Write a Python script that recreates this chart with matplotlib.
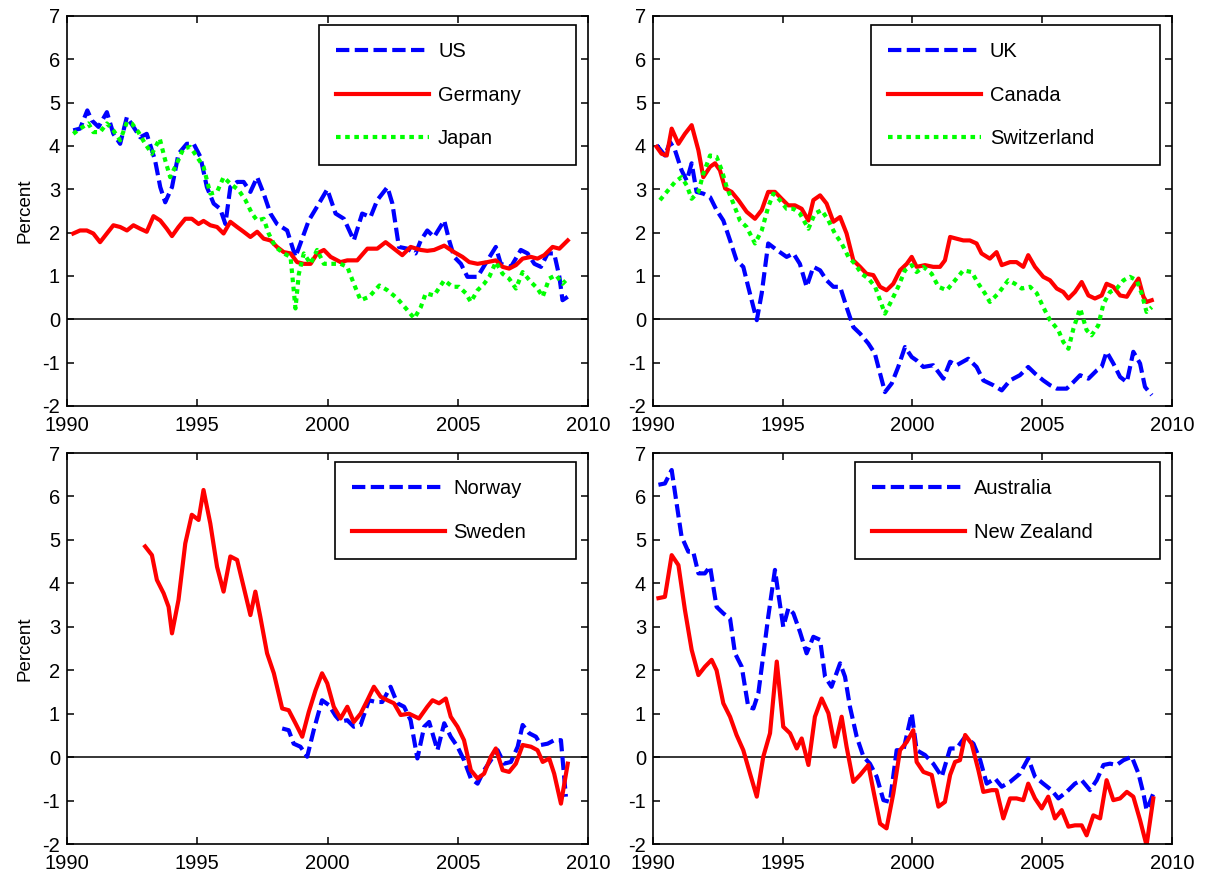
import matplotlib
matplotlib.use("Agg")
import matplotlib.pyplot as plt

plt.rcParams['font.family'] = ['Liberation Sans', 'DejaVu Sans']
plt.rcParams['font.size'] = 14.5
plt.rcParams['axes.unicode_minus'] = False

# quarterly series, percent
us_t = [1990.24, 1990.50, 1990.78, 1990.95, 1991.21, 1991.53, 1991.78, 1992.04, 1992.30, 1992.55,
        1992.81, 1993.06, 1993.38, 1993.58, 1993.77, 1994.03, 1994.28, 1994.60, 1994.86, 1995.12,
        1995.37, 1995.63, 1995.88, 1996.08, 1996.27, 1996.53, 1996.78, 1997.04, 1997.30, 1997.55,
        1997.81, 1998.06, 1998.45, 1998.77, 1998.96, 1999.28, 1999.60, 1999.99, 2000.31, 2000.63,
        2001.01, 2001.33, 2001.65, 2001.91, 2002.30, 2002.49, 2002.74, 2003.06, 2003.38, 2003.58,
        2003.83, 2004.09, 2004.48, 2004.67, 2004.86, 2005.12, 2005.37, 2005.76, 2006.14, 2006.46,
        2006.65, 2007.04, 2007.42, 2007.68, 2007.94, 2008.19, 2008.45, 2008.70, 2008.90, 2009.02,
        2009.22]
us = [4.36, 4.40, 4.82, 4.59, 4.44, 4.78, 4.28, 4.05, 4.67, 4.44,
      4.20, 4.28, 3.67, 3.05, 2.70, 3.05, 3.82, 4.05, 4.05, 3.75,
      3.05, 2.67, 2.55, 2.20, 3.05, 3.17, 3.17, 2.94, 3.28, 2.90,
      2.44, 2.20, 2.05, 1.44, 1.75, 2.28, 2.60, 3.00, 2.44, 2.32,
      1.82, 2.44, 2.36, 2.75, 3.05, 2.67, 1.67, 1.63, 1.52, 1.82,
      2.05, 1.90, 2.28, 1.82, 1.44, 1.28, 0.98, 0.98, 1.36, 1.67,
      1.28, 1.21, 1.60, 1.52, 1.28, 1.21, 1.52, 1.52, 0.98, 0.44,
      0.52]

germany_t = [1990.24, 1990.50, 1990.76, 1991.01, 1991.27, 1991.53, 1991.78, 1992.04, 1992.30, 1992.55,
             1992.81, 1993.06, 1993.32, 1993.58, 1993.83, 1994.03, 1994.28, 1994.54, 1994.79, 1995.05,
             1995.24, 1995.50, 1995.76, 1996.01, 1996.27, 1996.53, 1996.78, 1997.04, 1997.30, 1997.55,
             1997.81, 1998.06, 1998.32, 1998.58, 1998.83, 1999.09, 1999.35, 1999.60, 1999.86, 2000.12,
             2000.50, 2000.76, 2001.14, 2001.53, 2001.91, 2002.23, 2002.55, 2002.87, 2003.19, 2003.58,
             2003.83, 2004.09, 2004.48, 2004.86, 2005.18, 2005.44, 2005.76, 2006.14, 2006.46, 2006.72,
             2006.97, 2007.23, 2007.49, 2007.81, 2008.06, 2008.32, 2008.64, 2008.90, 2009.22]
germany = [1.98, 2.05, 2.05, 1.98, 1.78, 1.98, 2.17, 2.13, 2.05, 2.17,
           2.09, 2.02, 2.38, 2.28, 2.09, 1.92, 2.13, 2.32, 2.32, 2.20,
           2.27, 2.17, 2.13, 1.98, 2.25, 2.13, 2.02, 1.90, 2.02, 1.86,
           1.82, 1.67, 1.55, 1.52, 1.32, 1.28, 1.28, 1.52, 1.60, 1.44,
           1.32, 1.36, 1.36, 1.63, 1.63, 1.78, 1.63, 1.48, 1.67, 1.60,
           1.58, 1.60, 1.70, 1.55, 1.44, 1.32, 1.28, 1.32, 1.36, 1.21,
           1.17, 1.25, 1.40, 1.44, 1.40, 1.48, 1.67, 1.63, 1.82]

japan_t = [1990.24, 1990.50, 1990.82, 1991.01, 1991.27, 1991.53, 1991.78, 1992.04, 1992.30, 1992.49,
           1992.74, 1993.00, 1993.26, 1993.56, 1993.77, 1993.96, 1994.22, 1994.47, 1994.73, 1994.99,
           1995.24, 1995.50, 1995.76, 1996.01, 1996.27, 1996.59, 1996.85, 1997.10, 1997.30, 1997.55,
           1997.74, 1998.00, 1998.32, 1998.58, 1998.77, 1998.90, 1999.09, 1999.35, 1999.60, 1999.86,
           2000.12, 2000.50, 2000.76, 2001.01, 2001.27, 2001.60, 2001.99, 2002.30, 2002.68, 2003.01,
           2003.33, 2003.58, 2003.77, 2004.09, 2004.48, 2004.80, 2005.05, 2005.31, 2005.50, 2005.76,
           2006.01, 2006.21, 2006.46, 2006.72, 2006.97, 2007.23, 2007.49, 2007.81, 2008.06, 2008.26,
           2008.51, 2008.77, 2009.02, 2009.22]
japan = [4.28, 4.40, 4.52, 4.32, 4.32, 4.52, 4.36, 4.13, 4.55, 4.52,
         4.32, 4.05, 3.82, 4.17, 3.67, 3.28, 3.60, 3.94, 3.98, 3.75,
         3.52, 2.90, 2.94, 3.28, 3.13, 2.98, 2.75, 2.44, 2.28, 2.32,
         1.98, 1.67, 1.52, 1.44, 0.25, 1.05, 1.52, 1.28, 1.60, 1.28,
         1.28, 1.28, 1.21, 0.82, 0.44, 0.52, 0.78, 0.67, 0.48, 0.25,
         0.02, 0.28, 0.60, 0.55, 0.90, 0.75, 0.75, 0.60, 0.40, 0.67,
         0.82, 0.98, 1.32, 1.05, 0.94, 0.71, 1.09, 0.86, 0.71, 0.52,
         0.94, 1.02, 0.82, 0.94]

uk_t = [1990.14, 1990.46, 1990.66, 1990.85, 1991.10, 1991.30, 1991.49, 1991.68, 1991.94, 1992.20,
        1992.45, 1992.71, 1992.97, 1993.22, 1993.48, 1993.67, 1993.87, 1994.00, 1994.19, 1994.44,
        1994.77, 1995.15, 1995.41, 1995.66, 1995.92, 1996.18, 1996.44, 1996.69, 1996.95, 1997.21,
        1997.46, 1997.72, 1997.98, 1998.30, 1998.55, 1998.75, 1998.94, 1999.20, 1999.45, 1999.71,
        1999.97, 2000.16, 2000.42, 2000.80, 2001.19, 2001.45, 2001.70, 2002.15, 2002.47, 2002.73,
        2003.11, 2003.44, 2003.76, 2004.14, 2004.46, 2004.72, 2005.04, 2005.30, 2005.56, 2005.94,
        2006.20, 2006.46, 2006.78, 2007.10, 2007.29, 2007.48, 2007.74, 2008.00, 2008.26, 2008.51,
        2008.77, 2008.96, 2009.22]
uk = [4.02, 3.78, 4.09, 3.90, 3.44, 3.20, 3.60, 2.94, 2.90, 2.82,
      2.52, 2.28, 1.82, 1.36, 1.21, 0.75, 0.28, -0.02, 0.60, 1.75,
      1.60, 1.44, 1.52, 1.28, 0.75, 1.21, 1.13, 0.90, 0.75, 0.75,
      0.28, -0.18, -0.33, -0.56, -0.79, -1.25, -1.68, -1.48, -1.10, -0.64,
      -0.87, -0.95, -1.10, -1.06, -1.37, -0.98, -1.06, -0.91, -1.10, -1.41,
      -1.52, -1.64, -1.41, -1.29, -1.10, -1.25, -1.41, -1.52, -1.60, -1.60,
      -1.45, -1.29, -1.37, -1.18, -1.10, -0.75, -1.02, -1.33, -1.45, -0.75,
      -1.02, -1.56, -1.75]

canada_t = [1990.14, 1990.33, 1990.53, 1990.72, 1990.98, 1991.23, 1991.49, 1991.75, 1991.94, 1992.20,
            1992.39, 1992.58, 1992.78, 1993.03, 1993.29, 1993.61, 1993.93, 1994.19, 1994.44, 1994.70,
            1994.96, 1995.21, 1995.47, 1995.73, 1995.99, 1996.18, 1996.44, 1996.69, 1996.95, 1997.21,
            1997.46, 1997.72, 1997.98, 1998.23, 1998.49, 1998.75, 1999.00, 1999.26, 1999.52, 1999.78,
            1999.97, 2000.16, 2000.48, 2000.80, 2001.06, 2001.25, 2001.45, 2001.70, 2001.96, 2002.21,
            2002.47, 2002.66, 2002.98, 2003.24, 2003.44, 2003.76, 2004.01, 2004.27, 2004.46, 2004.72,
            2005.04, 2005.30, 2005.56, 2005.81, 2006.01, 2006.26, 2006.52, 2006.78, 2007.03, 2007.29,
            2007.48, 2007.74, 2008.00, 2008.26, 2008.45, 2008.71, 2008.90, 2009.02, 2009.22]
canada = [3.98, 3.82, 3.78, 4.40, 4.05, 4.28, 4.48, 3.90, 3.28, 3.52,
          3.60, 3.44, 3.02, 2.94, 2.75, 2.48, 2.32, 2.52, 2.94, 2.94,
          2.78, 2.63, 2.63, 2.55, 2.28, 2.75, 2.86, 2.67, 2.25, 2.36,
          1.98, 1.36, 1.21, 1.05, 1.02, 0.75, 0.67, 0.82, 1.13, 1.28,
          1.44, 1.21, 1.25, 1.21, 1.21, 1.36, 1.90, 1.86, 1.82, 1.82,
          1.75, 1.52, 1.40, 1.55, 1.25, 1.32, 1.32, 1.21, 1.48, 1.21,
          0.98, 0.90, 0.71, 0.63, 0.48, 0.63, 0.86, 0.55, 0.48, 0.55,
          0.82, 0.75, 0.55, 0.52, 0.71, 0.94, 0.52, 0.40, 0.44]

swiss_t = [1990.27, 1990.53, 1990.85, 1991.10, 1991.30, 1991.49, 1991.75, 1991.94, 1992.20, 1992.45,
           1992.65, 1992.84, 1993.10, 1993.35, 1993.61, 1993.93, 1994.19, 1994.44, 1994.64, 1994.89,
           1995.15, 1995.41, 1995.66, 1995.99, 1996.24, 1996.50, 1996.76, 1997.01, 1997.27, 1997.53,
           1997.78, 1998.04, 1998.30, 1998.56, 1998.75, 1998.94, 1999.20, 1999.45, 1999.71, 1999.97,
           2000.16, 2000.42, 2000.74, 2001.00, 2001.32, 2001.64, 2001.96, 2002.28, 2002.54, 2002.79,
           2002.98, 2003.31, 2003.69, 2003.95, 2004.21, 2004.53, 2004.79, 2005.04, 2005.30, 2005.62,
           2005.81, 2006.01, 2006.20, 2006.46, 2006.71, 2006.90, 2007.16, 2007.36, 2007.61, 2007.87,
           2008.13, 2008.38, 2008.64, 2008.83, 2009.02, 2009.22]
swiss = [2.75, 2.94, 3.17, 3.28, 3.09, 2.78, 2.94, 3.36, 3.78, 3.75,
         3.44, 3.05, 2.67, 2.28, 2.13, 1.75, 2.05, 2.59, 2.90, 2.75,
         2.55, 2.55, 2.44, 2.09, 2.44, 2.52, 2.28, 1.98, 1.75, 1.44,
         1.28, 1.05, 0.94, 0.75, 0.44, 0.13, 0.44, 0.75, 1.13, 1.25,
         1.09, 1.21, 1.05, 0.75, 0.67, 0.90, 1.13, 1.09, 0.82, 0.60,
         0.40, 0.60, 0.90, 0.82, 0.71, 0.75, 0.60, 0.28, -0.02, -0.25,
         -0.52, -0.68, -0.22, 0.25, -0.25, -0.37, -0.14, 0.36, 0.63, 0.71,
         0.90, 0.98, 0.90, 0.60, 0.17, 0.28]

norway_t = [1998.26, 1998.51, 1998.70, 1998.96, 1999.22, 1999.47, 1999.79, 2000.05, 2000.31, 2000.50,
            2000.76, 2001.01, 2001.27, 2001.59, 2001.85, 2002.10, 2002.42, 2002.68, 2002.94, 2003.19,
            2003.45, 2003.71, 2003.90, 2004.22, 2004.48, 2004.73, 2004.99, 2005.24, 2005.50, 2005.76,
            2006.01, 2006.27, 2006.53, 2006.78, 2007.04, 2007.30, 2007.49, 2007.74, 2008.00, 2008.19,
            2008.45, 2008.70, 2008.96, 2009.15]
norway = [0.66, 0.62, 0.31, 0.24, 0.01, 0.62, 1.31, 1.20, 0.95, 0.82,
          0.85, 0.70, 0.74, 1.31, 1.27, 1.27, 1.62, 1.24, 1.16, 0.85,
          -0.03, 0.70, 0.81, 0.16, 0.78, 0.47, 0.24, -0.07, -0.49, -0.61,
          -0.30, -0.07, 0.16, -0.15, -0.11, 0.24, 0.74, 0.55, 0.47, 0.28,
          0.31, 0.39, 0.39, -0.91]

sweden_t = [1993.00, 1993.26, 1993.45, 1993.71, 1993.90, 1994.03, 1994.28, 1994.54, 1994.79, 1995.05,
            1995.24, 1995.50, 1995.76, 1996.01, 1996.27, 1996.53, 1996.78, 1997.04, 1997.23, 1997.42,
            1997.68, 1997.94, 1998.26, 1998.51, 1998.77, 1999.03, 1999.28, 1999.54, 1999.79, 1999.99,
            2000.24, 2000.50, 2000.76, 2001.01, 2001.27, 2001.53, 2001.78, 2002.04, 2002.30, 2002.55,
            2002.81, 2003.13, 2003.51, 2003.83, 2004.03, 2004.28, 2004.54, 2004.73, 2004.99, 2005.24,
            2005.50, 2005.76, 2006.01, 2006.27, 2006.46, 2006.72, 2006.97, 2007.23, 2007.49, 2007.81,
            2008.06, 2008.26, 2008.51, 2008.70, 2008.96, 2009.22]
sweden = [4.85, 4.65, 4.08, 3.77, 3.46, 2.85, 3.62, 4.92, 5.58, 5.46,
          6.15, 5.38, 4.38, 3.81, 4.62, 4.54, 3.92, 3.27, 3.81, 3.23,
          2.39, 1.93, 1.12, 1.08, 0.78, 0.47, 1.04, 1.54, 1.93, 1.70,
          1.16, 0.89, 1.16, 0.81, 1.00, 1.31, 1.62, 1.39, 1.31, 1.24,
          0.97, 1.00, 0.89, 1.16, 1.31, 1.24, 1.35, 0.93, 0.70, 0.39,
          -0.30, -0.49, -0.38, 0.01, 0.20, -0.30, -0.34, -0.15, 0.28, 0.24,
          0.16, -0.11, -0.03, -0.38, -1.07, -0.15]

australia_t = [1990.21, 1990.46, 1990.72, 1990.91, 1991.10, 1991.36, 1991.55, 1991.75, 1992.00, 1992.20,
               1992.45, 1992.71, 1992.97, 1993.16, 1993.42, 1993.67, 1993.87, 1994.06, 1994.26, 1994.44,
               1994.70, 1994.83, 1995.02, 1995.22, 1995.41, 1995.66, 1995.92, 1996.18, 1996.44, 1996.63,
               1996.88, 1997.21, 1997.40, 1997.59, 1997.85, 1998.11, 1998.36, 1998.62, 1998.88, 1999.13,
               1999.39, 1999.65, 1999.97, 2000.16, 2000.48, 2000.80, 2001.13, 2001.45, 2001.70, 2002.03,
               2002.35, 2002.61, 2002.86, 2003.18, 2003.44, 2003.76, 2004.14, 2004.46, 2004.72, 2005.04,
               2005.36, 2005.62, 2005.94, 2006.26, 2006.52, 2006.84, 2007.10, 2007.36, 2007.61, 2007.87,
               2008.13, 2008.45, 2008.71, 2008.90, 2009.02, 2009.28]
australia = [6.27, 6.30, 6.61, 5.84, 5.08, 4.73, 4.73, 4.23, 4.23, 4.39,
             3.46, 3.31, 3.19, 2.39, 2.08, 1.16, 1.12, 1.47, 2.39, 3.23,
             4.31, 3.77, 3.00, 3.43, 3.31, 2.89, 2.39, 2.77, 2.70, 1.85,
             1.62, 2.16, 1.85, 1.16, 0.47, 0.01, -0.15, -0.45, -0.99, -1.03,
             0.16, 0.16, 1.01, 0.16, 0.05, -0.15, -0.45, 0.20, 0.20, 0.47,
             0.31, -0.07, -0.61, -0.49, -0.68, -0.57, -0.38, -0.03, -0.45, -0.61,
             -0.76, -0.95, -0.80, -0.61, -0.53, -0.76, -0.53, -0.18, -0.15, -0.18,
             -0.07, 0.01, -0.38, -0.84, -1.22, -0.84]

nz_t = [1990.21, 1990.46, 1990.72, 1990.98, 1991.23, 1991.49, 1991.75, 1992.00, 1992.26, 1992.45,
        1992.71, 1992.97, 1993.22, 1993.48, 1993.74, 1994.00, 1994.25, 1994.51, 1994.77, 1995.02,
        1995.28, 1995.54, 1995.73, 1995.99, 1996.24, 1996.50, 1996.76, 1997.01, 1997.27, 1997.46,
        1997.72, 1997.98, 1998.30, 1998.49, 1998.75, 1999.00, 1999.26, 1999.52, 1999.78, 2000.03,
        2000.16, 2000.42, 2000.74, 2001.00, 2001.25, 2001.45, 2001.64, 2001.83, 2002.03, 2002.28,
        2002.54, 2002.73, 2003.05, 2003.24, 2003.50, 2003.76, 2004.01, 2004.27, 2004.46, 2004.72,
        2004.98, 2005.23, 2005.49, 2005.75, 2006.01, 2006.26, 2006.52, 2006.71, 2006.97, 2007.23,
        2007.48, 2007.74, 2008.00, 2008.26, 2008.51, 2008.77, 2009.02, 2009.28]
nz = [3.66, 3.69, 4.65, 4.42, 3.39, 2.47, 1.89, 2.08, 2.24, 2.00,
      1.24, 0.93, 0.51, 0.16, -0.38, -0.91, 0.01, 0.55, 2.20, 0.70,
      0.55, 0.20, 0.43, -0.18, 0.93, 1.35, 1.01, 0.24, 0.93, 0.24,
      -0.57, -0.41, -0.18, -0.76, -1.53, -1.64, -0.84, 0.16, 0.35, 0.62,
      -0.11, -0.34, -0.41, -1.14, -1.03, -0.41, -0.11, -0.07, 0.51, 0.31,
      -0.30, -0.80, -0.76, -0.76, -1.41, -0.95, -0.95, -0.99, -0.61, -0.95,
      -1.18, -0.91, -1.41, -1.22, -1.60, -1.57, -1.57, -1.80, -1.34, -1.41,
      -0.53, -0.99, -0.95, -0.80, -0.91, -1.45, -2.03, -0.95]

x_ticks = [1990, 1995, 2000, 2005, 2010]
y_ticks = [-2, -1, 0, 1, 2, 3, 4, 5, 6, 7]

BLUE = dict(color='#0000ff', lw=3, dashes=(3.2, 1.3))
RED = dict(color='#ff0000', lw=3, linestyle='-')
GREEN = dict(color='#00ff00', lw=3, dashes=(1.1, 1.1))


def setup(ax, ylabel=True):
    ax.set_xlim(1990, 2010)
    ax.set_ylim(-2, 7)
    ax.set_xticks(x_ticks)
    ax.set_yticks(y_ticks)
    ax.tick_params(direction='in', top=True, right=True, length=5, width=1.1,
                   labelsize=14.5, colors='k')
    ax.tick_params(axis='x', pad=7)
    ax.tick_params(axis='y', pad=5)
    for s in ax.spines.values():
        s.set_linewidth(1.2)
    ax.axhline(0, color='k', lw=1.1, zorder=1)
    if ylabel:
        ax.set_ylabel('Percent', fontsize=13.5, labelpad=6)


def legend(ax, x0, bottom):
    leg = ax.legend(loc='upper right', bbox_to_anchor=(x0, bottom, 0.977 - x0, 0.977 - bottom),
                    mode='expand', borderaxespad=0, fancybox=False, framealpha=1,
                    edgecolor='k', handlelength=4.6, handletextpad=0.45,
                    borderpad=0.85, labelspacing=1.22, fontsize=14.5)
    leg.get_frame().set_linewidth(1.2)


fig = plt.figure(figsize=(12.05, 8.77), dpi=100)
ax1 = fig.add_axes([0.0556, 0.5371, 0.4324, 0.4447])
ax2 = fig.add_axes([0.5419, 0.5371, 0.4307, 0.4447])
ax3 = fig.add_axes([0.0556, 0.0376, 0.4324, 0.4458])
ax4 = fig.add_axes([0.5419, 0.0376, 0.4307, 0.4458])

setup(ax1)
ax1.plot(us_t, us, label='US', **BLUE)
ax1.plot(germany_t, germany, label='Germany', **RED)
ax1.plot(japan_t, japan, label='Japan', **GREEN)
legend(ax1, 0.484, 0.618)

setup(ax2, ylabel=False)
ax2.plot(uk_t, uk, label='UK', **BLUE)
ax2.plot(canada_t, canada, label='Canada', **RED)
ax2.plot(swiss_t, swiss, label='Switzerland', **GREEN)
legend(ax2, 0.42, 0.618)

setup(ax3)
ax3.plot(norway_t, norway, label='Norway', **BLUE)
ax3.plot(sweden_t, sweden, label='Sweden', **RED)
legend(ax3, 0.514, 0.729)

setup(ax4, ylabel=False)
ax4.plot(australia_t, australia, label='Australia', **BLUE)
ax4.plot(nz_t, nz, label='New Zealand', **RED)
legend(ax4, 0.389, 0.729)

fig.savefig('out.png', dpi=100)
